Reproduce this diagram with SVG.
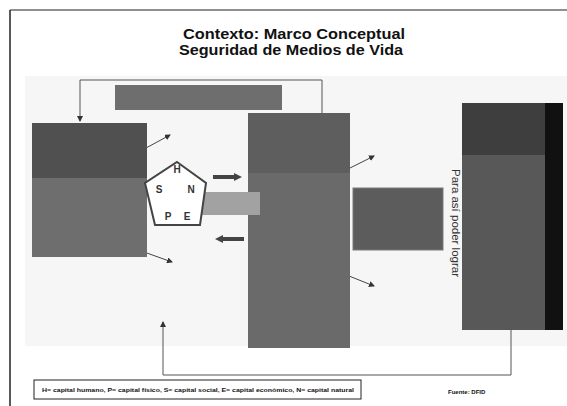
<svg xmlns="http://www.w3.org/2000/svg" width="567" height="406" viewBox="0 0 567 406">
<defs>
<marker id="ah" markerWidth="6" markerHeight="6" refX="5" refY="3" orient="auto" markerUnits="userSpaceOnUse">
<path d="M0,0 L6,3 L0,6 Z" fill="#333"/>
</marker>
<marker id="thick" markerWidth="8" markerHeight="8" refX="4" refY="4" orient="auto" markerUnits="userSpaceOnUse">
<path d="M0,0 L8,4 L0,8 Z" fill="#444"/>
</marker>
</defs>
<style>
.title{font-family:"Liberation Sans",Arial,sans-serif;font-weight:bold;font-size:15.5px;fill:#111}
.pl{font-family:"Liberation Sans",Arial,sans-serif;font-weight:bold;font-size:10px;fill:#333;text-anchor:middle}
.conn{fill:none;stroke:#555;stroke-width:1}
.thin{stroke:#444;stroke-width:1;fill:none}
.fat{stroke:#444;stroke-width:4;fill:none}
.foot{font-family:"Liberation Sans",Arial,sans-serif;font-size:6px;font-weight:bold;fill:#111}
</style>
<rect width="567" height="406" fill="#ffffff"/>
<rect x="25" y="76" width="542" height="270" fill="#f6f6f6"/>
<line x1="10" y1="10" x2="567" y2="10" stroke="#222" stroke-width="1.2"/>
<line x1="10" y1="10" x2="10" y2="406" stroke="#222" stroke-width="1.5"/>
<g id="title">
<text class="title" x="183" y="39" textLength="222" lengthAdjust="spacingAndGlyphs">Contexto:  Marco Conceptual</text>
<text class="title" x="179" y="55" textLength="224" lengthAdjust="spacingAndGlyphs">Seguridad de Medios de Vida</text>
</g>
<g id="connectors">
<polyline class="conn" points="322,113 322,80 80,80 80,121" marker-end="url(#ah)"/>
<polyline class="conn" points="511,330 511,375 163,375 163,322" marker-end="url(#ah)"/>
<line class="thin" x1="146" y1="148" x2="170" y2="135" marker-end="url(#ah)"/>
<line class="thin" x1="144" y1="252" x2="172" y2="262" marker-end="url(#ah)"/>
<line class="thin" x1="350" y1="168" x2="374" y2="156" marker-end="url(#ah)"/>
<line class="thin" x1="349" y1="276" x2="374" y2="286" marker-end="url(#ah)"/>
<line class="fat" x1="213" y1="177" x2="238" y2="177" marker-end="url(#thick)"/>
<line class="fat" x1="244" y1="239" x2="219" y2="239" marker-end="url(#thick)"/>
</g>
<g id="top-box">
<rect x="115" y="85" width="167" height="25" fill="#6e6e6e"/>
</g>
<g id="left-box">
<rect x="32" y="123" width="115" height="134" fill="#6e6e6e"/>
<rect x="32" y="123" width="115" height="55" fill="#505050"/>
</g>
<g id="middle-box">
<rect x="248" y="113" width="102" height="235" fill="#6a6a6a"/>
<rect x="248" y="113" width="102" height="60" fill="#5e5e5e"/>
</g>
<g id="light-box">
<rect x="202" y="192" width="58" height="23" fill="#a2a2a2"/>
</g>
<g id="pentagon">
<polygon points="177,162 206,183 200,225 155,225 145,183" fill="#fff" stroke="#444" stroke-width="2"/>
<text class="pl" x="177" y="173">H</text>
<text class="pl" x="159" y="193">S</text>
<text class="pl" x="191" y="193">N</text>
<text class="pl" x="168" y="220">P</text>
<text class="pl" x="187" y="220">E</text>
</g>
<g id="strategy-box">
<rect x="353" y="188" width="90" height="62" fill="#5c5c5c" stroke="#7a7a7a" stroke-width="1"/>
</g>
<g id="right-box">
<rect x="462" y="103" width="101" height="227" fill="#585858"/>
<rect x="462" y="103" width="101" height="52" fill="#3e3e3e"/>
<rect x="545" y="103" width="18" height="227" fill="#111"/>
</g>
<g id="label-lograr">
<text x="0" y="0" transform="translate(452,223) rotate(90)" font-family="'Liberation Sans',Arial,sans-serif" font-size="11.5" fill="#333" text-anchor="middle">Para así poder lograr</text>
</g>
<g id="footer">
<rect x="34" y="380" width="327" height="19" fill="#fff" stroke="#222" stroke-width="1"/>
<text class="foot" x="42" y="392" textLength="312" lengthAdjust="spacingAndGlyphs">H= capital humano, P= capital físico, S= capital social, E= capital económico, N= capital natural</text>
<text class="foot" x="448" y="394" font-size="7">Fuente: DFID</text>
</g>
</svg>
